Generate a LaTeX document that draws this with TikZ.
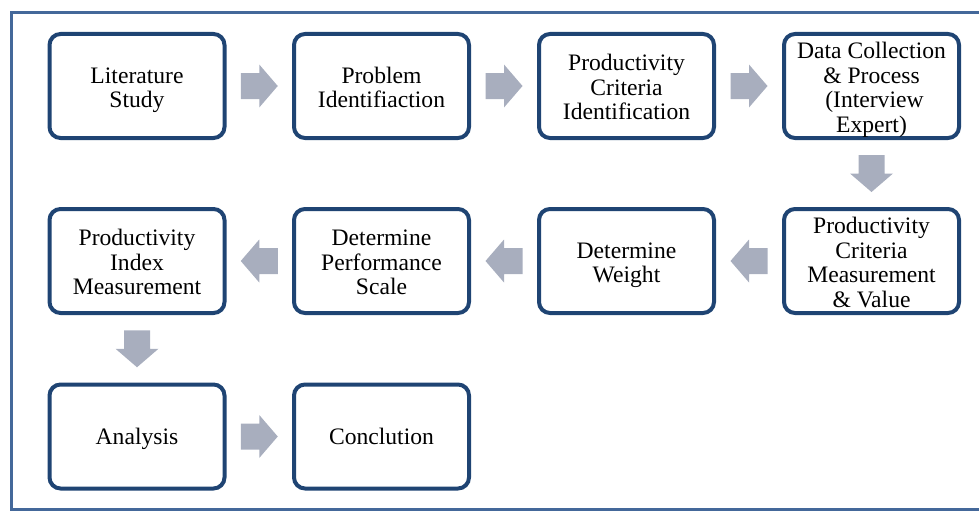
\documentclass[tikz,border=0pt]{standalone}
\usepackage{fontspec}
\setmainfont{Liberation Serif}
\usetikzlibrary{calc}
\definecolor{boxline}{HTML}{1F4473}
\definecolor{frameline}{HTML}{44689A}
\definecolor{arrowfill}{HTML}{A8AEBE}
% centred lines of a step; a shorter reported depth drops the block a little
\newcommand\steplines[1]{\raisebox{0pt}[\height][\dimexpr\depth-9pt\relax]{\begin{tabular}{@{}c@{}}#1\end{tabular}}}
\tikzset{
  stepbox/.style={draw=boxline, line width=4pt, fill=white, rounded corners=11pt,
    minimum width=175pt, minimum height=104pt, inner sep=1pt,
    font=\fontsize{23.6}{24.5}\selectfont},
  blockarrow/.pic={\fill[arrowfill] (-18.5,-13) -- (0,-13) -- (0,-21.5) -- (18.5,0)
    -- (0,21.5) -- (0,13) -- (-18.5,13) -- cycle;}
}
\begin{document}
\begin{tikzpicture}[x=1pt,y=-1pt]
\useasboundingbox (0,0) rectangle (979,511);
% outer frame (open on the right)
\draw[frameline, line width=3pt] (979,12.5) -- (11.5,12.5) -- (11.5,509.5) -- (979,509.5);

% first row
\node[stepbox] (lit)  at (137,86)   {\steplines{Literature\\Study}};
\node[stepbox] (prob) at (381.5,86) {\steplines{Problem\\Identifiaction}};
\node[stepbox] (crit) at (626.5,86) {\steplines{Productivity\\Criteria\\Identification}};
\node[stepbox] (data) at (871.5,86) {\steplines{Data Collection\\\& Process\\\ (Interview\\Expert)}};
% second row
\node[stepbox] (meas) at (871.5,261) {\steplines{Productivity\\Criteria\\Measurement\\\& Value}};
\node[stepbox] (wgt)  at (626.5,261) {\steplines{Determine\\Weight}};
\node[stepbox] (scal) at (381.5,261) {\steplines{Determine\\Performance\\Scale}};
\node[stepbox] (idx)  at (137,261)   {\steplines{Productivity\\Index\\Measurement}};
% third row
\node[stepbox] (ana)  at (137,436.5)   {\steplines{Analysis}};
\node[stepbox] (conc) at (381.5,436.5) {\steplines{Conclution}};

% block arrows between the steps
\pic at ($(lit.east)!0.5!(prob.west)$) {blockarrow};
\pic at ($(prob.east)!0.5!(crit.west)$) {blockarrow};
\pic at ($(crit.east)!0.5!(data.west)$) {blockarrow};
\pic[rotate=-90] at ($(data.south)!0.5!(meas.north)$) {blockarrow};
\pic[rotate=180] at ($(meas.west)!0.5!(wgt.east)$) {blockarrow};
\pic[rotate=180] at ($(wgt.west)!0.5!(scal.east)$) {blockarrow};
\pic[rotate=180] at ($(scal.west)!0.5!(idx.east)$) {blockarrow};
\pic[rotate=-90] at ($(idx.south)!0.5!(ana.north)$) {blockarrow};
\pic at ($(ana.east)!0.5!(conc.west)$) {blockarrow};
\end{tikzpicture}
\end{document}
